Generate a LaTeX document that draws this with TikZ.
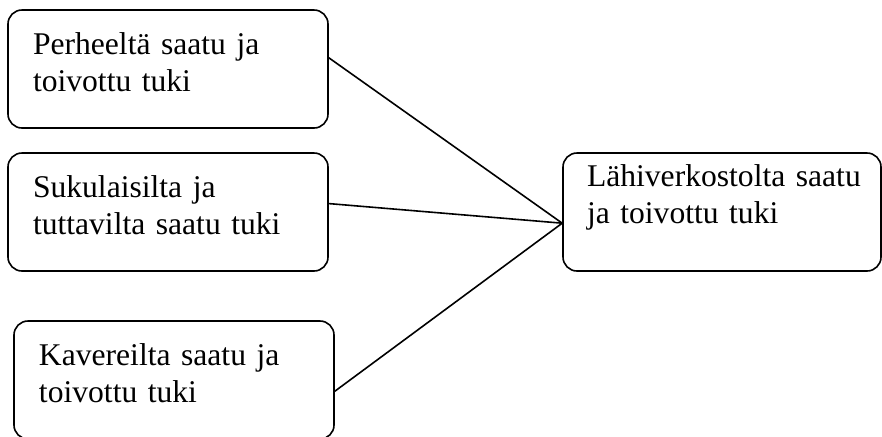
\documentclass[tikz,border=0pt]{standalone}
\usepackage{fontspec}
\setmainfont{Liberation Serif}
\usepackage{tikz}
\usetikzlibrary{calc}

\begin{document}
\begin{tikzpicture}[x=0.5pt, y=-0.5pt,
  box/.style={draw, line width=0.8pt, rounded corners=7pt, minimum width=160pt, minimum height=59pt,
    inner xsep=12.5pt, text width=135pt, align=left, text depth=25.3pt,
    font=\fontsize{15.8}{18.5}\selectfont}]
\useasboundingbox (0,0) rectangle (882,436);
\node[box, name=perhe] at (168,69) {Perheeltä saatu ja\\toivottu tuki};
\node[box, name=suku] at (168,212) {Sukulaisilta ja\\tuttavilta saatu tuki};
\node[box, name=kaveri] at (174,380) {Kavereilta saatu ja\\toivottu tuki};
\node[box, name=lahi, minimum width=159pt, inner xsep=12pt, text depth=36.3pt] at (722,212) {\mbox{Lähiverkostolta saatu}\\ja toivottu tuki};
\draw[line width=0.8pt] (perhe.4.3) -- (lahi.184.7);
\draw[line width=0.8pt] (suku.3.9) -- (lahi.184.7);
\draw[line width=0.8pt] (kaveri.-4.3) -- (lahi.184.7);
\end{tikzpicture}
\end{document}
